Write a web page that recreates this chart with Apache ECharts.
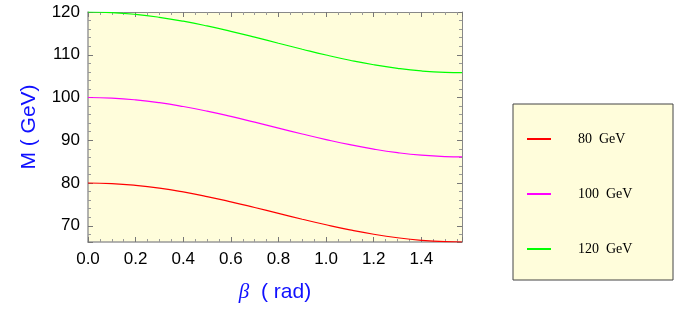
<!DOCTYPE html>
<html>
<head>
<meta charset="utf-8">
<script src="https://cdn.jsdelivr.net/npm/echarts@6/dist/echarts.min.js"></script>
<style>
  html, body { margin: 0; padding: 0; background: #fff; }
  #main { width: 687px; height: 322px; }
</style>
</head>
<body>
<div id="main"></div>
<script>
// beta values (rad)
const beta = [0, 0.1, 0.2, 0.3, 0.4, 0.5, 0.6, 0.7, 0.8, 0.9, 1.0, 1.1, 1.2, 1.3, 1.4, 1.5, 1.5708];
// M (GeV)
const m80 = [80, 79.86, 79.45, 78.80, 77.91, 76.83, 75.60, 74.27, 72.90, 71.53, 70.23, 69.04, 68.01, 67.19, 66.60, 66.27, 66.2];
const m100 = [100, 99.86, 99.45, 98.79, 97.89, 96.81, 95.57, 94.23, 92.85, 91.47, 90.16, 88.96, 87.93, 87.10, 86.50, 86.17, 86.1];
const m120 = [120, 119.86, 119.44, 118.76, 117.85, 116.74, 115.47, 114.11, 112.69, 111.29, 109.94, 108.72, 107.66, 106.82, 106.21, 105.87, 105.8];
const names = ['80  GeV', '100  GeV', '120  GeV'];
const colors = ['#ff0000', '#ff00ff', '#00ff00'];

const xMin = 0, xMax = 1.5708;
const yMin = 66.2, yMax = 120;

function pairs(ys) {
  return beta.map((b, i) => [b, ys[i]]);
}

const chart = echarts.init(document.getElementById('main'), null, { renderer: 'canvas' });

const tickStyle = { show: true, inside: true, length: 5, lineStyle: { color: '#777', width: 1 } };
const minorStyle = { show: true, length: 3, lineStyle: { color: '#999', width: 1 } };
const lineStyle = { show: true, onZero: false, lineStyle: { color: '#999', width: 1.5 } };

const option = {
  animation: false,
  textStyle: { fontFamily: 'Liberation Sans' },
  grid: {
    left: 88, right: 225, top: 12, bottom: 80,
    show: true, backgroundColor: '#fffddb', borderWidth: 0
  },
  xAxis: [{
    type: 'value', min: xMin, max: xMax, interval: 0.2,
    axisLine: lineStyle,
    axisTick: tickStyle,
    minorTick: Object.assign({ splitNumber: 4 }, minorStyle),
    splitLine: { show: false },
    axisLabel: {
      color: '#000', fontSize: 17, margin: 9,
      showMaxLabel: false,
      formatter: v => v.toFixed(1)
    },
    name: '{i|β}  ( rad)',
    nameLocation: 'middle',
    nameGap: 40,
    nameTextStyle: {
      color: '#1010ff', fontSize: 21,
      rich: { i: { fontStyle: 'italic', fontSize: 21, color: '#1010ff', fontFamily: 'Liberation Serif' } }
    }
  }, {
    type: 'value', position: 'top', min: xMin, max: xMax, interval: 0.2,
    axisLine: { show: true, onZero: false, lineStyle: { color: '#888', width: 1 } },
    axisTick: tickStyle,
    minorTick: Object.assign({ splitNumber: 4 }, minorStyle),
    splitLine: { show: false },
    axisLabel: { show: false }
  }],
  yAxis: [{
    type: 'value', min: yMin, max: yMax, splitNumber: 5,
    axisLine: lineStyle,
    axisTick: tickStyle,
    minorTick: Object.assign({ splitNumber: 5 }, minorStyle),
    splitLine: { show: false },
    axisLabel: { color: '#000', fontSize: 17, margin: 8, showMinLabel: false },
    name: 'M ( GeV)',
    nameLocation: 'middle',
    nameRotate: 90,
    nameGap: 48,
    nameTextStyle: { color: '#1010ff', fontSize: 21 }
  }, {
    type: 'value', position: 'right', min: yMin, max: yMax, splitNumber: 5,
    axisLine: { show: true, onZero: false, lineStyle: { color: '#888', width: 1 } },
    axisTick: tickStyle,
    minorTick: Object.assign({ splitNumber: 5 }, minorStyle),
    splitLine: { show: false },
    axisLabel: { show: false }
  }],
  legend: {
    orient: 'vertical',
    left: 522, top: 127,
    itemGap: 41,
    itemWidth: 24, itemHeight: 2,
    icon: 'rect',
    selectedMode: false,
    data: names,
    textStyle: { fontFamily: 'Liberation Serif', fontSize: 14, color: '#000', padding: [0, 0, 0, 22] }
  },
  graphic: [{
    type: 'rect',
    z: -1,
    shape: { x: 513, y: 104, width: 160, height: 176 },
    style: { fill: '#fffddb', stroke: '#444', lineWidth: 1 }
  }],
  series: [m80, m100, m120].map((ys, i) => ({
    name: names[i],
    type: 'line',
    data: pairs(ys),
    smooth: true,
    showSymbol: false,
    color: colors[i],
    lineStyle: { width: 1.2, color: colors[i] }
  }))
};

chart.setOption(option);
</script>
</body>
</html>
